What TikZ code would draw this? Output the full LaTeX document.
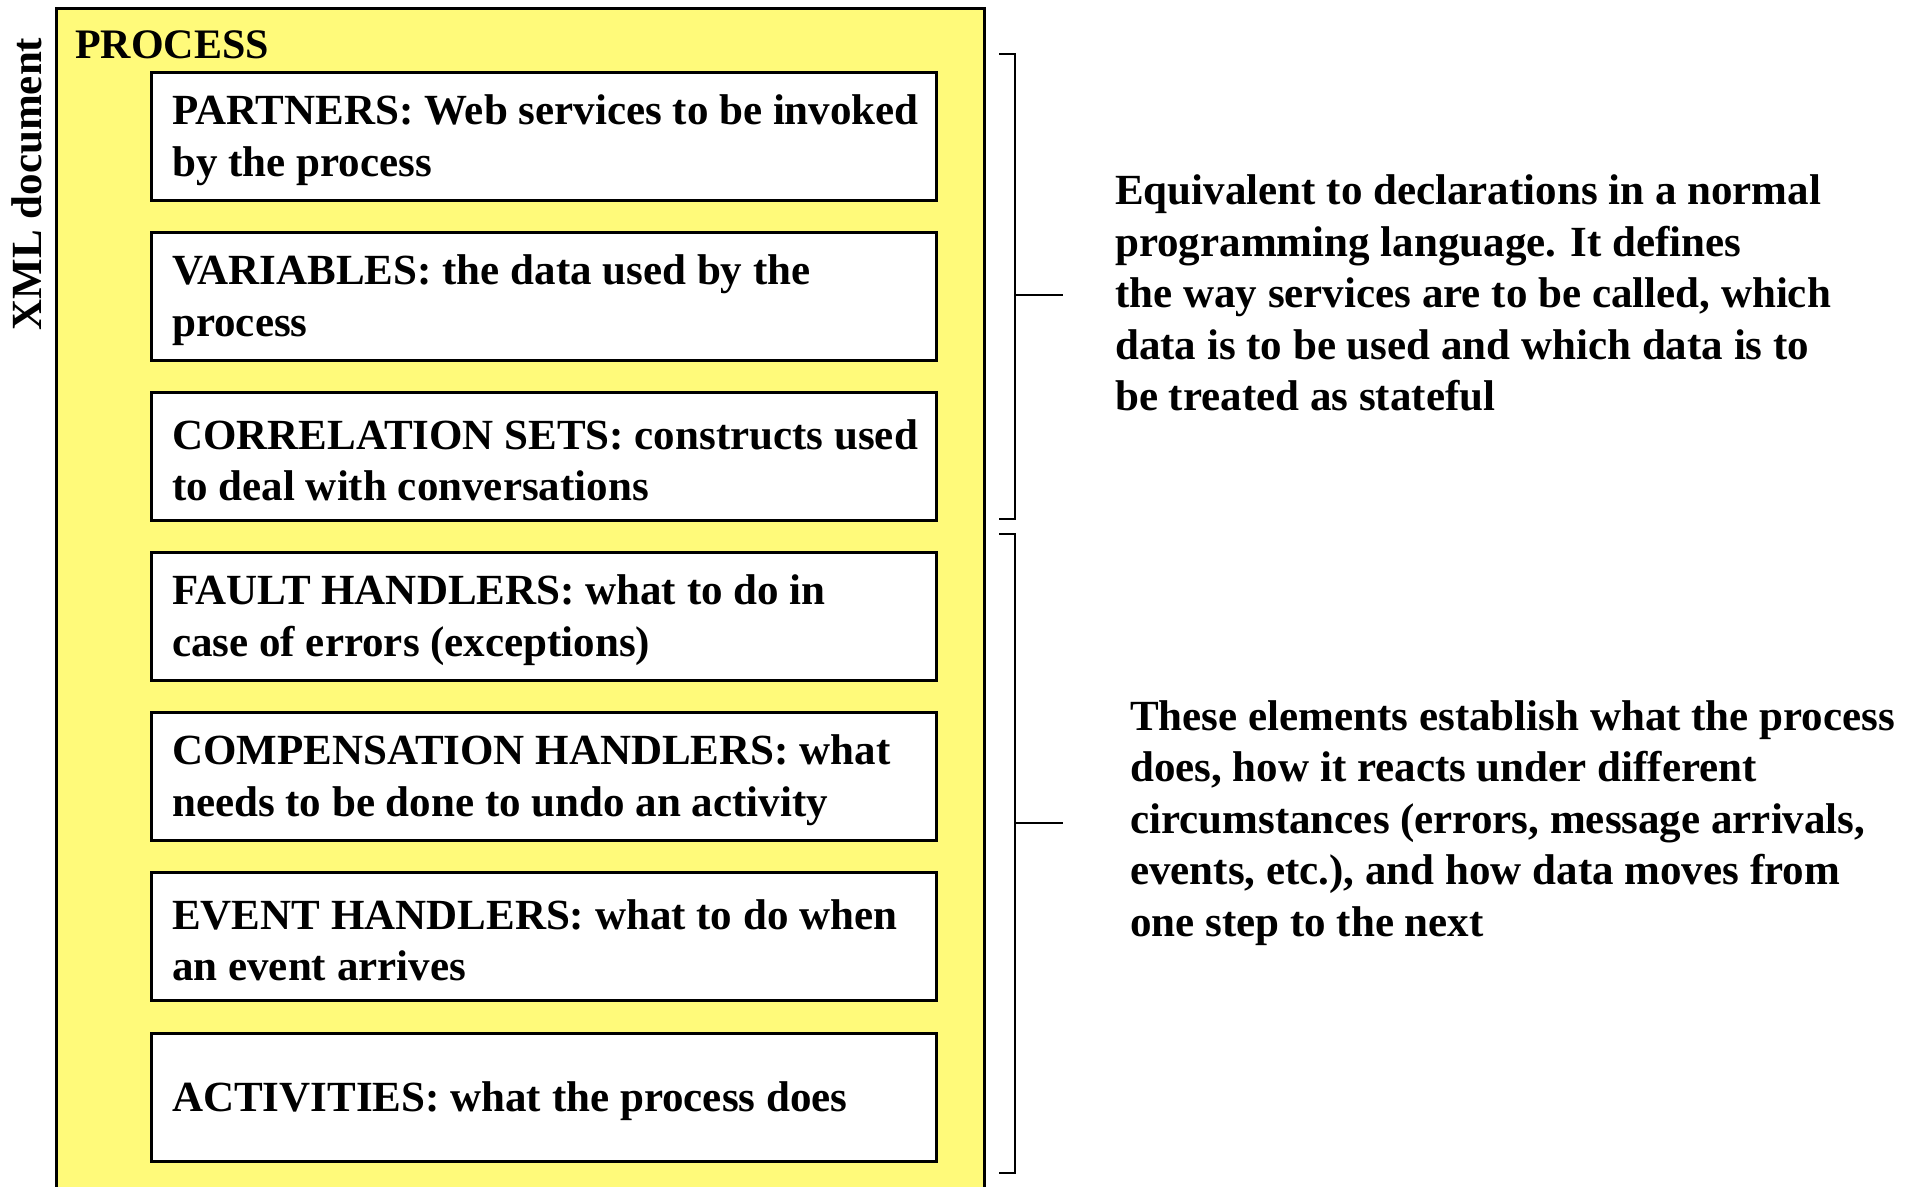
\documentclass[tikz,border=0pt]{standalone}
\usepackage{fontspec}
\setmainfont{Liberation Serif}
\usetikzlibrary{shadows}
\definecolor{procyellow}{RGB}{255,250,122}
\begin{document}
\begin{tikzpicture}[x=1pt,y=-1pt,
  txt/.style={font=\fontsize{43}{51.5}\selectfont\bfseries, inner sep=0pt, align=left},
  procframe/.style={draw=black, line width=2.5pt, fill=procyellow, rectangle,
    minimum width=928pt, minimum height=1200pt, anchor=north west, inner sep=0pt},
  stepbox/.style={draw=black, line width=2.5pt, fill=white, rectangle,
    minimum width=785pt, minimum height=128pt, anchor=north west, inner sep=0pt,
    drop shadow={shadow xshift=2pt, shadow yshift=-2pt, fill=black!40, opacity=1}},
  brace/.style={draw=black, line width=2.5pt}]
\useasboundingbox (0,0) rectangle (1910,1186);
\fill[white] (0,0) rectangle (1910,1186);

% outer PROCESS container
\node[procframe] (proc) at (55,7) {};
\node[txt, anchor=base west, font=\fontsize{42}{46}\selectfont\bfseries] (proclbl) at (75,58) {PROCESS};
\node[txt, rotate=90, font=\fontsize{43}{46}\selectfont\bfseries] (xmldoc) at (27,184) {XML document};

% process elements
\node[stepbox] (b1) at (150,71) {};
\node[stepbox] (b2) at (150,231) {};
\node[stepbox] (b3) at (150,391) {};
\node[stepbox] (b4) at (150,551) {};
\node[stepbox] (b5) at (150,711) {};
\node[stepbox] (b6) at (150,871) {};
\node[stepbox] (b7) at (150,1032) {};

\tikzset{inbox/.style={txt, anchor=west}}
\node[inbox] (t1) at ([xshift=22pt,yshift=-4pt]b1.west) {PARTNERS: Web services to be invoked\\by the process};
\node[inbox] (t2) at ([xshift=22pt,yshift=-4pt]b2.west) {VARIABLES: the data used by the\\process};
\node[inbox] (t3) at ([xshift=22pt,yshift=-4pt]b3.west) {CORRELATION SETS: constructs used\\to deal with conversations};
\node[inbox] (t4) at ([xshift=22pt,yshift=-4pt]b4.west) {FAULT HANDLERS: what to do in\\case of errors (exceptions)};
\node[inbox] (t5) at ([xshift=22pt,yshift=-4pt]b5.west) {COMPENSATION HANDLERS: what\\needs to be done to undo an activity};
\node[inbox] (t6) at ([xshift=22pt,yshift=-4pt]b6.west) {EVENT HANDLERS: what to do when\\an event arrives};
\node[inbox] (t7) at ([xshift=22pt,yshift=-4pt]b7.west) {ACTIVITIES: what the process does};

% brackets grouping the elements
\coordinate (k1a) at (999,54);
\coordinate (k1b) at (1015,54);
\coordinate (k1c) at (1015,519);
\coordinate (k1d) at (999,519);
\coordinate (k1m) at (1015,295);
\coordinate (k1e) at (1063,295);
\draw[brace] (k1a) -- (k1b) -- (k1c) -- (k1d);
\draw[brace] (k1m) -- (k1e);

\coordinate (k2a) at (999,534);
\coordinate (k2b) at (1015,534);
\coordinate (k2c) at (1015,1173);
\coordinate (k2d) at (999,1173);
\coordinate (k2m) at (1015,823);
\coordinate (k2e) at (1063,823);
\draw[brace] (k2a) -- (k2b) -- (k2c) -- (k2d);
\draw[brace] (k2m) -- (k2e);

\node[txt, anchor=west] (n1) at ([xshift=52pt,yshift=2pt]k1e) {Equivalent to declarations in a normal\\programming language. It defines\\the way services are to be called, which\\data is to be used and which data is to\\be treated as stateful};
\node[txt, anchor=west] (n2) at ([xshift=67pt]k2e) {These elements establish what the process\\does, how it reacts under different\\circumstances (errors, message arrivals,\\events, etc.), and how data moves from\\one step to the next};
\end{tikzpicture}
\end{document}
